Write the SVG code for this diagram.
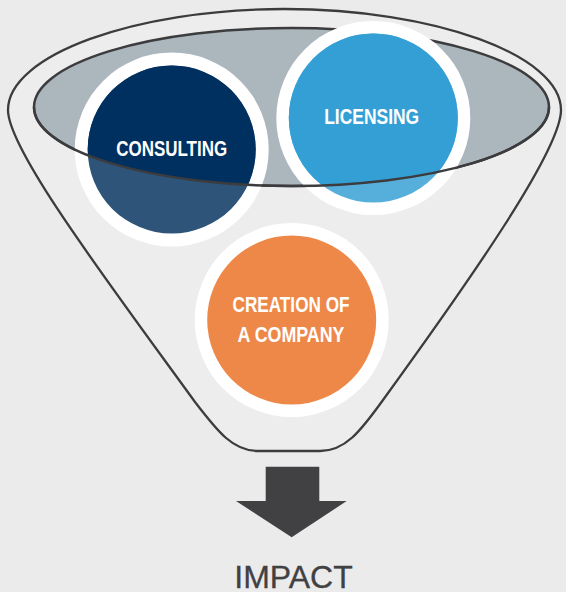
<svg xmlns="http://www.w3.org/2000/svg" width="566" height="592" viewBox="0 0 566 592">
  <style>
    .outline { fill: none; stroke: #3c3c3e; stroke-width: 2.3; }
    .ring { fill: #ffffff; }
    .label { font-family: "Liberation Sans", Arial, sans-serif; font-weight: bold; font-size: 22px; fill: #ffffff; text-anchor: middle; }
    .impact { font-family: "Liberation Sans", Arial, sans-serif; font-size: 32px; fill: #414143; stroke: #414143; stroke-width: 0.3; text-anchor: middle; }
  </style>
  <defs>
    <!-- interior of the funnel mouth; circle parts inside it are shaded darker -->
    <clipPath id="mouth-clip">
      <ellipse cx="291.5" cy="107" rx="257.5" ry="79"/>
    </clipPath>
  </defs>

  <rect x="0" y="0" width="566" height="592" fill="#ebebeb"/>

  <!-- funnel body -->
  <g id="funnel">
    <path d="M8,110 C8,55 135,9 284.5,9 C434,9 561,55 561,110 C561,150 470,280 383,400 C360,432 345,451 320,451 L258,451 C233,451 218,432 195,402 C108,282 8,150 8,110 Z" fill="#ededed" stroke="#3c3c3e" stroke-width="2.3"/>
  </g>

  <!-- funnel mouth -->
  <g id="mouth">
    <ellipse cx="291.5" cy="107" rx="257.5" ry="79" fill="#abb6bd" stroke="#3c3c3e" stroke-width="2.5"/>
  </g>

  <g id="consulting">
    <circle class="ring" cx="171.7" cy="149.5" r="97"/>
    <circle cx="171.7" cy="149.5" r="84" fill="#2e5479"/>
    <circle cx="171.7" cy="149.5" r="84" fill="#00305f" clip-path="url(#mouth-clip)"/>
    <text class="label" x="171.7" y="156" textLength="111" lengthAdjust="spacingAndGlyphs">CONSULTING</text>
  </g>

  <g id="licensing">
    <circle class="ring" cx="373.3" cy="118" r="97"/>
    <circle cx="373.3" cy="118" r="84.5" fill="#56afdb"/>
    <circle cx="373.3" cy="118" r="84.5" fill="#349fd4" clip-path="url(#mouth-clip)"/>
    <text class="label" x="371.7" y="124" textLength="95" lengthAdjust="spacingAndGlyphs">LICENSING</text>
  </g>

  <!-- front edge of the mouth passes over the circles -->
  <g id="mouth-front">
    <path d="M34,107 A257.5,79 0 0 0 549,107" fill="none" stroke="#3c3c3e" stroke-width="2.5"/>
  </g>

  <g id="creation">
    <circle class="ring" cx="291.7" cy="320" r="97"/>
    <circle cx="291.7" cy="320" r="84.5" fill="#ee8849"/>
    <text class="label" x="291" y="312" textLength="117" lengthAdjust="spacingAndGlyphs">CREATION OF</text>
    <text class="label" x="291" y="342" textLength="107" lengthAdjust="spacingAndGlyphs">A COMPANY</text>
  </g>

  <g id="connectors">
    <path d="M265.7,466.7 H319.3 V501 H346.7 L291.7,537.3 L236,501 H265.7 Z" fill="#414143"/>
  </g>

  <g id="impact">
    <text class="impact" x="293.5" y="588">IMPACT</text>
  </g>
</svg>
